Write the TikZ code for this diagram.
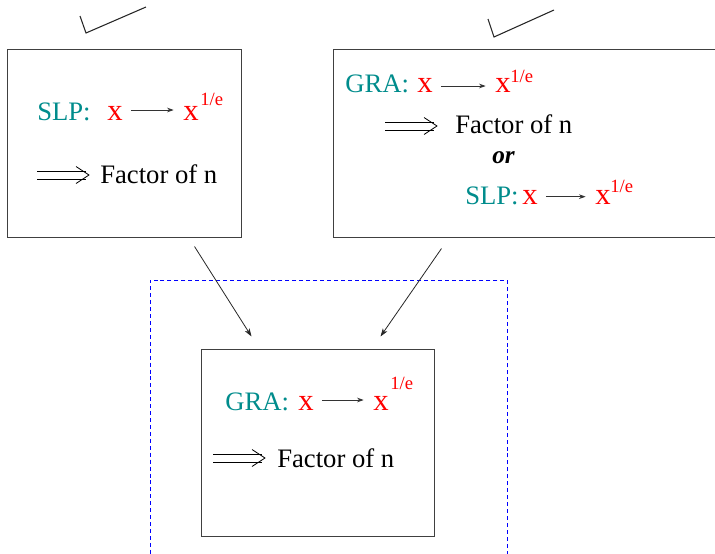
\documentclass[tikz,border=0pt]{standalone}
\usepackage{fontspec}
\setmainfont{Liberation Serif}
\usepackage{xcolor}
\usetikzlibrary{arrows.meta, positioning, calc, fit}

\definecolor{algteal}{RGB}{0,140,140}
\definecolor{rootred}{RGB}{255,0,0}
\definecolor{grpblue}{RGB}{0,0,255}

\begin{document}
\begin{tikzpicture}[
        x=0.75pt, y=-0.75pt,
        box/.style={
            rectangle, draw=black!75, line width=0.75pt, inner sep=0pt
        },
        grp/.style={
            rectangle, draw=grpblue, line width=0.6pt, inner sep=0pt,
            dash pattern=on 3pt off 2.2pt
        },
        alg/.style={anchor=base west, inner sep=0pt, text=algteal,
            font=\fontsize{20}{24}\selectfont},
        var/.style={anchor=base west, inner sep=0pt, text=rootred,
            font=\fontsize{23}{27}\selectfont},
        expo/.style={anchor=base west, inner sep=0pt, text=rootred,
            font=\fontsize{14}{17}\selectfont},
        txt/.style={anchor=base west, inner sep=0pt,
            font=\fontsize{20}{24}\selectfont},
        orlbl/.style={anchor=base west, inner sep=0pt,
            font=\fontsize{19}{22}\selectfont\bfseries\itshape},
        maparr/.style={-{Stealth[length=5pt, width=3.5pt]}, line width=0.6pt, black!80,
            shorten <=6pt, shorten >=7pt},
        arr/.style={-{Stealth[length=6pt, width=4pt, inset=1.5pt]}, line width=0.6pt, black!85},
        tick/.style={line width=0.8pt, black!85},
        impl/.style={line width=0.6pt}
    ]
    \useasboundingbox (0,0) rectangle (715,554);

    % === Boxes ===
    \node[box, fit={(7,49) (241,237)}] (b1) {};
    \node[box, fit={(333,49) (725,237)}] (b2) {};
    \node[grp, fit={(150,280) (507,565)}] (g3) {};
    \node[box, fit={(201,349) (434,536)}] (b3) {};

    % === Tick marks ===
    \draw[tick] (80,16) -- (86,33) -- (146,7);
    \draw[tick] (488,19) -- (494,37) -- (554,10);

    % === Box 1: SLP ===
    \node[alg] (s1) at (37,120) {SLP:};
    \node[var] (x1) at (107,120) {x};
    \node[var] (y1) at (183,120) {x};
    \node[expo] (e1) at (200,105) {1/e};
    \draw[maparr] ([yshift=7.5pt]x1.base east) -- ([yshift=7.5pt]y1.base west);
    \node[txt] (f1) at (100,183) {Factor of n};

    % === Box 2: GRA or SLP ===
    \node[alg] (s2) at (345,92) {GRA:};
    \node[var] (x2) at (417,92) {x};
    \node[var] (y2) at (495,92) {x};
    \node[expo] (e2) at (510,82) {1/e};
    \draw[maparr] ([yshift=4.5pt]x2.base east) -- ([yshift=4.5pt]y2.base west);
    \node[txt] (f2) at (455,133) {Factor of n};
    \node[orlbl] (or2) at (492,163) {or};
    \node[alg] (s2b) at (465,204) {SLP:};
    \node[var] (x2b) at (522,204) {x};
    \node[var] (y2b) at (595,204) {x};
    \node[expo] (e2b) at (610,192) {1/e};
    \draw[maparr] ([yshift=5.5pt]x2b.base east) -- ([yshift=5.5pt]y2b.base west);

    % === Box 3: GRA ===
    \node[alg] (s3) at (225,410) {GRA:};
    \node[var] (x3) at (298,410) {x};
    \node[var] (y3) at (373,410) {x};
    \node[expo] (e3) at (390,389) {1/e};
    \draw[maparr] ([yshift=7.5pt]x3.base east) -- ([yshift=7.5pt]y3.base west);
    \node[txt] (f3) at (277,467) {Factor of n};

    % === Implies arrows ===
    \foreach \px/\py in {37/175, 385/126, 213/458} {
        \draw[impl] (\px,\py-4) -- ++(49,0);
        \draw[impl] (\px,\py+4) -- ++(49,0);
        \draw[impl] (\px+39,\py-8.5) -- (\px+52,\py) -- (\px+39,\py+8.5);
    }

    % === Reduction arrows ===
    \draw[arr] ($(b1.south east)+(-47,9)$) -- ($(b3.north west)+(51,-12)$);
    \draw[arr] ($(b2.south west)+(109,11)$) -- ($(b3.north east)+(-54,-12)$);

\end{tikzpicture}
\end{document}
